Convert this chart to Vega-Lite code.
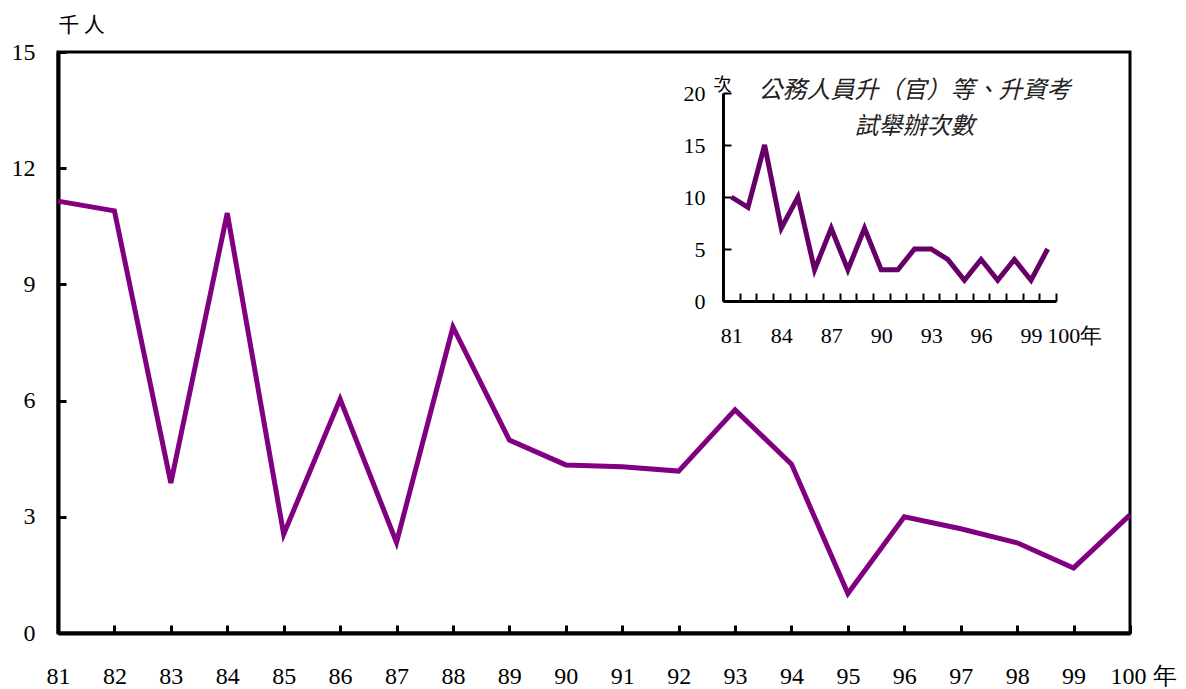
{
  "$schema": "https://vega.github.io/schema/vega-lite/v6.json",
  "width": 1072,
  "height": 581,
  "autosize": "none",
  "padding": {"left": 58, "top": 52, "right": 56, "bottom": 56},
  "background": "white",
  "config": {
    "view": {"stroke": "black", "strokeWidth": 3},
    "axis": {"grid": false, "labelFont": "Liberation Serif", "labelColor": "black", "domainColor": "black", "tickColor": "black", "labelOverlap": false}
  },
  "data": {
    "values": [
      {"year": "81", "thousands": 11.15, "exams": 10},
      {"year": "82", "thousands": 10.9, "exams": 9},
      {"year": "83", "thousands": 3.87, "exams": 15},
      {"year": "84", "thousands": 10.84, "exams": 7},
      {"year": "85", "thousands": 2.55, "exams": 10},
      {"year": "86", "thousands": 6.04, "exams": 3},
      {"year": "87", "thousands": 2.34, "exams": 7},
      {"year": "88", "thousands": 7.9, "exams": 3},
      {"year": "89", "thousands": 4.98, "exams": 7},
      {"year": "90", "thousands": 4.34, "exams": 3},
      {"year": "91", "thousands": 4.29, "exams": 3},
      {"year": "92", "thousands": 4.18, "exams": 5},
      {"year": "93", "thousands": 5.76, "exams": 5},
      {"year": "94", "thousands": 4.36, "exams": 4},
      {"year": "95", "thousands": 1.02, "exams": 2},
      {"year": "96", "thousands": 3.0, "exams": 4},
      {"year": "97", "thousands": 2.69, "exams": 2},
      {"year": "98", "thousands": 2.33, "exams": 4},
      {"year": "99", "thousands": 1.68, "exams": 2},
      {"year": "100", "thousands": 3.05, "exams": 5}
    ]
  },
  "layer": [
    {
      "mark": {"type": "line", "color": "#800080", "strokeWidth": 5, "strokeJoin": "miter"},
      "encoding": {
        "x": {
          "field": "year", "type": "ordinal", "sort": null,
          "scale": {"type": "point", "padding": 0},
          "axis": {
            "orient": "bottom", "title": null, "labelAngle": 0, "labelFontSize": 24,
            "labelPadding": 51, "labelBaseline": "middle",
            "tickSize": -8, "tickWidth": 3, "domainWidth": 4,
            "labelExpr": "datum.value == '100' ? '100 年' : datum.label",
            "labelAlign": {"condition": {"test": "datum.value == '100'", "value": "left"}, "value": "center"},
            "labelOffset": {"condition": {"test": "datum.value == '100'", "value": -20}, "value": 0}
          }
        },
        "y": {
          "field": "thousands", "type": "quantitative",
          "scale": {"domain": [0, 15], "nice": false},
          "axis": {
            "orient": "left", "values": [0, 3, 6, 9, 12, 15], "labelFontSize": 24,
            "labelPadding": 31, "labelBaseline": "middle",
            "tickSize": -8, "tickWidth": 3, "domainWidth": 4,
            "title": "千 人", "titleAngle": 0, "titleX": 23, "titleY": -27,
            "titleAlign": "center", "titleBaseline": "middle",
            "titleFont": "Noto Sans CJK TC", "titleFontSize": 21, "titleFontWeight": "normal", "titleColor": "black"
          }
        }
      }
    },
    {
      "encoding": {
        "x": {
          "field": "year", "type": "ordinal", "sort": null,
          "scale": {"type": "band", "paddingInner": 0, "paddingOuter": 0, "range": [665, 998]},
          "axis": {
            "orient": "bottom", "offset": -332, "title": null, "labelAngle": 0, "labelFontSize": 22,
            "labelPadding": 42, "labelBaseline": "middle",
            "tickBand": "extent", "tickSize": -8, "tickWidth": 2, "domainWidth": 3,
            "labelExpr": "indexof(['81','84','87','90','93','96','99'], datum.value) >= 0 ? datum.label : (datum.value == '100' ? '100年' : '')",
            "labelAlign": {"condition": {"test": "datum.value == '100'", "value": "left"}, "value": "center"},
            "labelOffset": {"condition": {"test": "datum.value == '100'", "value": -1}, "value": 0}
          }
        },
        "y": {
          "field": "exams", "type": "quantitative",
          "scale": {"domain": [0, 20], "nice": false, "range": [249, 41]},
          "axis": {
            "orient": "left", "offset": -665, "values": [0, 5, 10, 15, 20], "labelFontSize": 22,
            "labelPadding": 26, "labelBaseline": "middle",
            "tickSize": -8, "tickWidth": 2, "domainWidth": 3,
            "title": "次", "titleAngle": 0, "titleX": -1, "titleY": 33,
            "titleAlign": "center", "titleBaseline": "middle",
            "titleFont": "Noto Sans CJK TC", "titleFontSize": 18, "titleFontWeight": "normal", "titleColor": "black"
          }
        }
      },
      "layer": [
        {"mark": {"type": "line", "color": "#660066", "strokeWidth": 5, "strokeJoin": "miter"}},
        {
          "transform": [{"filter": "datum.year == '92'"}],
          "mark": {
            "type": "text", "text": ["公務人員升（官）等、升資考", "試舉辦次數"],
            "font": "Noto Sans CJK TC", "fontSize": 24, "fontStyle": "italic", "lineHeight": 36,
            "align": "center", "baseline": "top", "color": "#222222"
          },
          "encoding": {
            "y": {"datum": 21.3, "type": "quantitative"}
          }
        }
      ]
    }
  ],
  "resolve": {
    "scale": {"x": "independent", "y": "independent"},
    "axis": {"x": "independent", "y": "independent"}
  }
}
